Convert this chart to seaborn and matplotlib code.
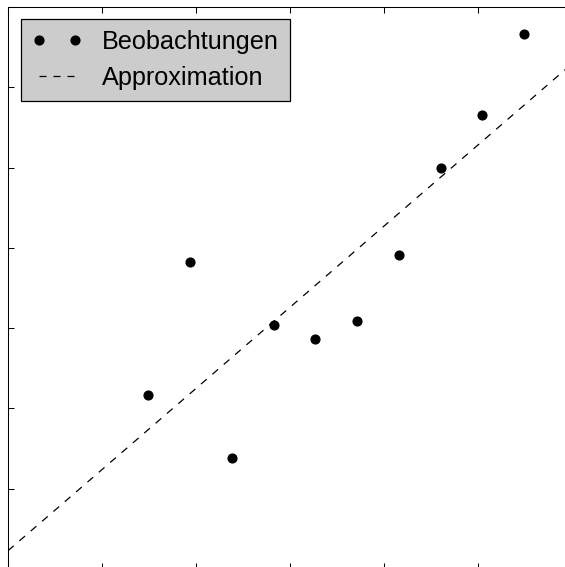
import numpy as np
import pandas as pd
import matplotlib
matplotlib.use("Agg")
import matplotlib.pyplot as plt
import seaborn as sns

# Observations
x_obs = [1.49, 1.936, 2.383, 2.83, 3.266, 3.713, 4.16, 4.606, 5.043, 5.489]
y_obs = [2.17, 3.82, 1.38, 3.04, 2.86, 3.09, 3.91, 4.99, 5.65, 6.66]
labels = ["Beobachtungen", "Approximation"]

x_ticks = [0, 1, 2, 3, 4, 5, 6]
y_ticks = [0, 1, 2, 3, 4, 5, 6, 7]

sns.set_theme(style="white")
plt.rcParams["font.family"] = ["Liberation Sans", "DejaVu Sans"]
plt.rcParams["text.color"] = "black"

W, H = 565, 567
fig = plt.figure(figsize=(W / 100, H / 100), dpi=100)
# axes frame runs past the right and bottom border of the figure
ax = fig.add_axes([8 / W, 1 - 569 / H, 564 / W, 562 / H])

df = pd.DataFrame({"x": x_obs, "y": y_obs})

# least-squares line through the observations
slope, intercept = np.polyfit(df["x"], df["y"], 1)
line_x = np.array([x_ticks[0], x_ticks[-1]])
line_df = pd.DataFrame({"x": line_x, "y": intercept + slope * line_x})

sns.lineplot(data=line_df, x="x", y="y", ax=ax, color="black", linewidth=0.9,
             linestyle=(0, (6, 6)), label=labels[1], zorder=2)
ax.plot(df["x"], df["y"], linestyle="none", marker="o", markersize=6.3,
        color="black", label=labels[0], zorder=3)

ax.set_xlim(x_ticks[0], x_ticks[-1])
ax.set_ylim(y_ticks[0], y_ticks[-1])
ax.set_xticks(x_ticks)
ax.set_yticks(y_ticks)
ax.set_xticklabels([])
ax.set_yticklabels([])
ax.set_xlabel("")
ax.set_ylabel("")
ax.tick_params(direction="in", length=4, width=0.75, color="black",
               top=True, right=True, bottom=True, left=True)
for sp in ax.spines.values():
    sp.set_color("black")
    sp.set_linewidth(0.75)

handles, labs = ax.get_legend_handles_labels()
order = [labs.index(labels[0]), labs.index(labels[1])]
leg = ax.legend([handles[i] for i in order], [labs[i] for i in order],
                loc="upper left", bbox_to_anchor=(12.7 / 564, 1 - 12.3 / 562),
                borderaxespad=0, numpoints=2, fontsize=18.2, frameon=True,
                fancybox=False, framealpha=1, facecolor="#cccccc",
                edgecolor="black", handlelength=2.0, handletextpad=0.8,
                labelspacing=0.47, borderpad=0.43)
leg.get_frame().set_linewidth(0.9)
for t in leg.get_texts():
    t.set_color("black")
# three dashes in the legend sample
leg.get_lines()[1].set_linestyle((0, (5.6, 5.6)))

fig.savefig("out.png", dpi=100)
